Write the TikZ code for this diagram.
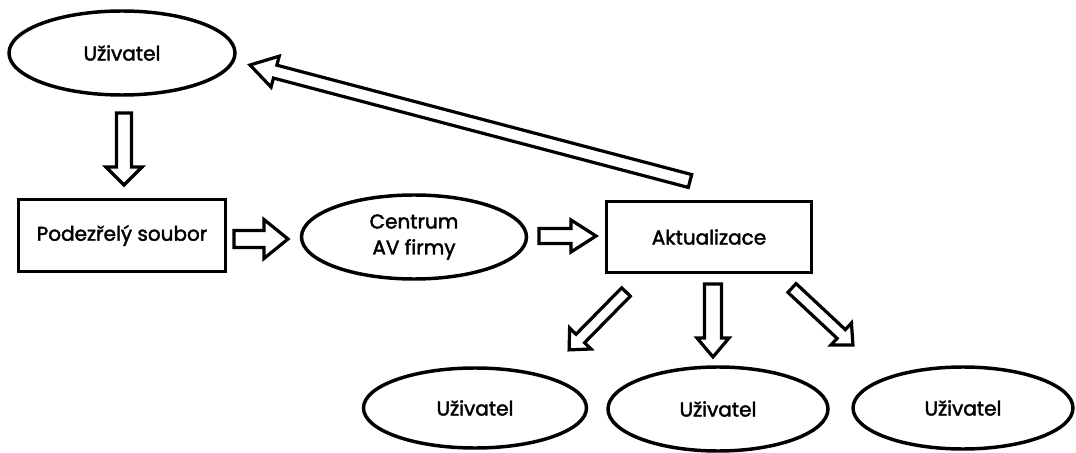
\documentclass[tikz,border=0pt]{standalone}
\usepackage{fontspec}
\setmainfont{Poppins}
\newfontfamily\lblfont{Poppins}[FakeBold=2]
\usetikzlibrary{shapes.geometric,calc}

\tikzset{
  lbl/.style={font=\lblfont\fontsize{15}{19.5}\selectfont, align=center, text=black},
  oval/.style={ellipse, draw, line width=2.6pt, inner sep=0pt, lbl},
  box/.style={rectangle, draw, line width=2.6pt, inner sep=0pt, lbl},
  barrow/.style={draw, line width=2.4pt, fill=white, line join=miter},
}

% hollow block arrow: from, to, shaft half width, head half width, head length
\newcommand\blockarrow[5]{%
  \draw[barrow] let \p1=(#1), \p2=(#2),
      \n1={atan2(\y2-\y1,\x2-\x1)}, \n2={veclen(\x2-\x1,\y2-\y1)} in
    [shift={(\p1)}, rotate=\n1]
    (0pt,-#3) -- ({\n2-#5},-#3) -- ({\n2-#5},-#4) -- (\n2,0pt)
    -- ({\n2-#5},#4) -- ({\n2-#5},#3) -- (0pt,#3) -- cycle;
}

\begin{document}
\begin{tikzpicture}[x=0.75pt,y=-0.75pt]
  \fill[white] (0,0) rectangle (1076,453);
  \useasboundingbox (0,0) rectangle (1076,453);

  % nodes
  \node[oval, minimum width=169.5pt, minimum height=63pt] (u0) at (122,53) {Uživatel};
  \node[box, minimum width=155.25pt, minimum height=54pt] (pod) at (122,235.5) {Podezřelý soubor};
  \node[oval, minimum width=168.75pt, minimum height=63pt] (av) at (414,237) {Centrum\\AV firmy};
  \node[box, minimum width=153.75pt, minimum height=53.25pt] (akt) at (709,237) {Aktualizace};
  \node[oval, minimum width=167.25pt, minimum height=60pt] (u1) at (475,408) {Uživatel};
  \node[oval, minimum width=165pt, minimum height=63pt] (u2) at (718,409) {Uživatel};
  \node[oval, minimum width=165pt, minimum height=61.5pt] (u3) at (963,408) {Uživatel};

  % arrow ends
  \coordinate (a1s) at (124,113);  \coordinate (a1e) at (124,185);
  \coordinate (a2s) at (234,239);  \coordinate (a2e) at (288,239);
  \coordinate (a3s) at (539,236);  \coordinate (a3e) at (596,236);
  \coordinate (a4s) at (690,181);  \coordinate (a4e) at (250,65);
  \coordinate (b1s) at (626,292);  \coordinate (b1e) at (569,350);
  \coordinate (b2s) at (713,284);  \coordinate (b2e) at (713,357);
  \coordinate (b3s) at (792,288);  \coordinate (b3e) at (853,345);

  % connectors
  \blockarrow{a1s}{a1e}{5.6pt}{13.5pt}{13.5pt}
  \blockarrow{a2s}{a2e}{6.4pt}{14.6pt}{18pt}
  \blockarrow{a3s}{a3e}{5.6pt}{12pt}{18.75pt}
  \blockarrow{a4s}{a4e}{5pt}{12pt}{19.5pt}
  \blockarrow{b1s}{b1e}{4.5pt}{11.25pt}{12pt}
  \blockarrow{b2s}{b2e}{6.4pt}{12pt}{14.25pt}
  \blockarrow{b3s}{b3e}{4.5pt}{11.25pt}{12pt}
\end{tikzpicture}
\end{document}
